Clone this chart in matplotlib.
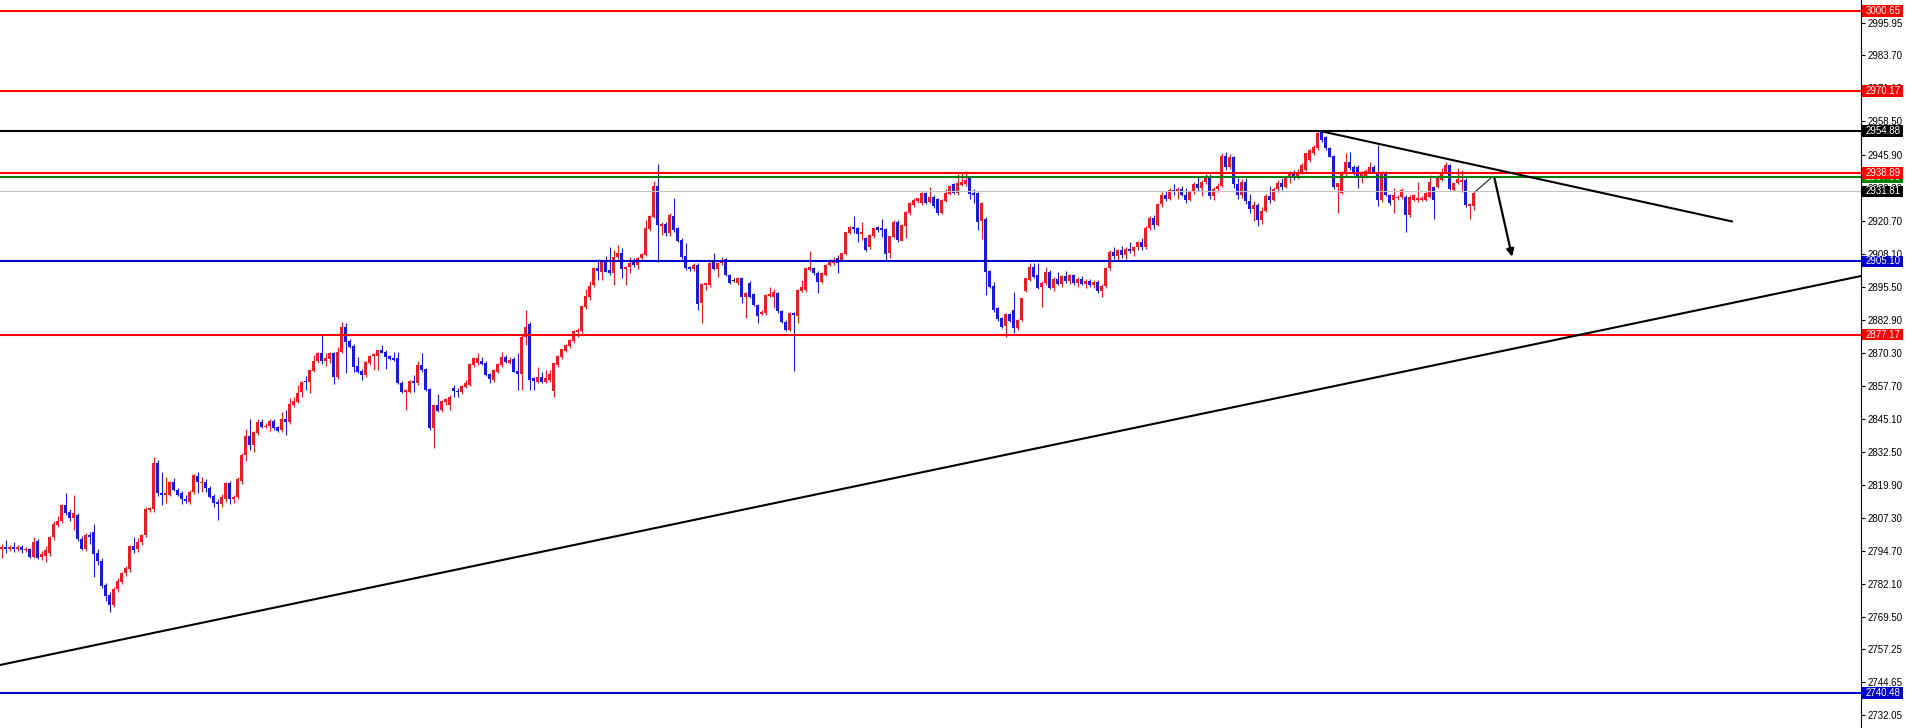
import matplotlib
matplotlib.use("Agg")
import matplotlib.pyplot as plt
import matplotlib.transforms as mtransforms
from matplotlib.patches import Rectangle

# ---------------- candle data (one value per bar, oldest first) ----------------
open_prices = [
    2795.6, 2796.2, 2795.6, 2796.1, 2795.5, 2796.0, 2795.0, 2795.4, 2792.2, 2798.4,
    2792.5, 2792.7, 2793.8, 2799.9, 2804.6, 2806.2, 2812.2, 2809.7, 2807.1, 2808.4,
    2799.1, 2795.3, 2800.8, 2802.0, 2793.8, 2791.0, 2781.7, 2777.9, 2774.0, 2780.0,
    2782.9, 2786.1, 2787.7, 2796.6, 2795.3, 2798.0, 2800.8, 2810.3, 2810.6, 2828.1,
    2816.7, 2816.0, 2816.0, 2820.9, 2817.9, 2816.9, 2814.4, 2813.5, 2817.0, 2823.4,
    2820.5, 2821.1, 2818.8, 2815.6, 2813.5, 2812.6, 2814.4, 2820.5, 2814.4, 2815.4,
    2821.5, 2831.3, 2838.5, 2835.1, 2839.5, 2844.0, 2842.1, 2842.3, 2844.2, 2841.8,
    2840.8, 2845.0, 2843.7, 2850.4, 2851.6, 2855.4, 2859.3, 2859.0, 2863.4, 2867.0,
    2870.3, 2867.3, 2867.9, 2870.1, 2860.9, 2870.7, 2880.2, 2874.8, 2872.9, 2865.2,
    2863.3, 2861.8, 2866.2, 2869.2, 2869.2, 2871.3, 2870.7, 2869.0, 2868.1, 2868.1,
    2858.9, 2855.4, 2855.4, 2859.6, 2858.9, 2865.6, 2864.0, 2856.5, 2841.4, 2850.3,
    2848.4, 2851.6, 2850.3, 2856.8, 2855.8, 2855.2, 2857.35, 2858.0, 2865.6, 2866.2,
    2867.3, 2866.5, 2862.0, 2859.9, 2863.1, 2865.6, 2868.8, 2866.5, 2867.8, 2863.3,
    2862.05, 2876.4, 2881.25, 2860.5, 2859.25, 2861.2, 2859.25, 2859.9, 2855.5, 2865.6,
    2868.8, 2871.1, 2872.9, 2874.9, 2878.3, 2878.7, 2887.9, 2891.7, 2896.1, 2902.75,
    2901.2, 2905.3, 2901.9, 2900.6, 2906.9, 2908.5, 2902.1, 2902.9, 2905.0, 2903.8,
    2906.3, 2907.6, 2917.5, 2922.2, 2933.9, 2918.6, 2919.4, 2915.8, 2922.45, 2917.75,
    2913.3, 2907.2, 2903.1, 2902.1, 2903.8, 2889.1, 2896.1, 2896.1, 2905.0, 2902.1,
    2904.4, 2905.9, 2899.95, 2898.0, 2897.0, 2898.7, 2891.7, 2896.8, 2892.7, 2888.5,
    2885.1, 2885.3, 2892.1, 2891.7, 2893.0, 2886.2, 2882.1, 2879.0, 2885.3, 2884.4,
    2894.0, 2894.2, 2901.9, 2902.5, 2900.8, 2897.4, 2900.0, 2903.8, 2904.4, 2906.55,
    2905.7, 2908.0, 2916.1, 2918.1, 2917.8, 2915.5, 2913.9, 2910.75, 2914.8, 2918.1,
    2917.75, 2917.5, 2908.2, 2914.6, 2920.3, 2913.1, 2918.75, 2923.7, 2926.6, 2928.3,
    2927.3, 2931.1, 2927.9, 2929.8, 2928.8, 2923.7, 2928.3, 2930.85, 2934.65, 2931.1,
    2934.3, 2934.65, 2936.8, 2931.1, 2931.1, 2920.5, 2921.2, 2901.5, 2895.75, 2887.2,
    2883.4, 2880.5, 2885.06, 2886.6, 2879.6, 2882.8, 2893.96, 2898.0, 2903.1, 2899.9,
    2895.2, 2896.76, 2901.2, 2895.0, 2898.5, 2896.5, 2899.5, 2897.8, 2899.8, 2896.8,
    2898.4, 2896.6, 2897.8, 2896.2, 2897.2, 2894.0, 2895.8, 2902.5, 2908.8, 2907.0,
    2909.3, 2907.5, 2909.8, 2909.0, 2910.5, 2912.5, 2910.5, 2918.0, 2921.5, 2919.0,
    2927.0, 2930.5, 2929.0, 2932.5, 2931.5, 2932.8, 2930.5, 2928.5, 2931.8, 2934.8,
    2933.0, 2935.5, 2937.8, 2930.0, 2932.8, 2934.0, 2945.5, 2941.0, 2944.8, 2934.5,
    2930.5, 2935.5, 2928.0, 2925.0, 2926.5, 2921.0, 2924.5, 2930.0, 2928.5, 2932.8,
    2935.0, 2933.5, 2936.8, 2938.5, 2937.0, 2939.4, 2940.0, 2943.8, 2946.35, 2948.3,
    2954.6, 2952.5, 2948.3, 2945.35, 2933.4, 2931.35, 2938.4, 2943.2, 2941.3, 2941.3,
    2937.7, 2937.7, 2939.4, 2941.3, 2939.4, 2928.55, 2939.4, 2930.5, 2928.55, 2929.5,
    2929.8, 2929.8, 2922.8, 2928.55, 2928.55, 2928.55, 2928.55, 2929.8, 2933.6, 2933.4,
    2936.2, 2939.4, 2941.9, 2932.4, 2934.9, 2935.55, 2936.2, 2926.3, 2926.3,
]

high_prices = [
    2797.2, 2799.0, 2796.8, 2798.0, 2797.0, 2796.8, 2796.2, 2795.8, 2800.0, 2799.2,
    2794.8, 2796.5, 2800.5, 2806.0, 2808.0, 2812.5, 2816.7, 2810.5, 2816.0, 2809.0,
    2800.5, 2801.5, 2801.8, 2805.0, 2795.5, 2792.0, 2782.5, 2779.0, 2781.0, 2784.5,
    2786.8, 2788.8, 2797.0, 2800.0, 2799.5, 2801.2, 2811.5, 2811.5, 2830.5, 2829.5,
    2824.9, 2823.0, 2821.5, 2822.5, 2818.5, 2817.5, 2816.0, 2817.8, 2824.2, 2824.9,
    2823.0, 2822.0, 2819.5, 2816.5, 2814.5, 2816.5, 2820.8, 2821.2, 2816.0, 2823.0,
    2832.0, 2841.2, 2845.0, 2840.5, 2845.0, 2845.0, 2843.5, 2845.0, 2845.0, 2842.5,
    2847.8, 2848.4, 2852.9, 2853.3, 2858.0, 2859.5, 2861.4, 2863.8, 2869.4, 2870.5,
    2877.1, 2870.3, 2870.7, 2870.5, 2872.6, 2882.1, 2881.5, 2875.5, 2873.5, 2868.8,
    2864.0, 2867.3, 2869.5, 2870.3, 2871.5, 2873.2, 2871.2, 2869.5, 2870.7, 2870.7,
    2859.5, 2856.5, 2860.0, 2861.8, 2867.3, 2870.3, 2864.5, 2857.0, 2850.3, 2854.5,
    2852.2, 2853.0, 2854.0, 2857.8, 2857.0, 2857.8, 2859.7, 2866.5, 2868.8, 2870.1,
    2868.8, 2867.0, 2862.5, 2864.0, 2866.5, 2870.4, 2869.5, 2868.5, 2868.5, 2870.1,
    2877.0, 2886.6, 2882.0, 2861.0, 2865.0, 2863.1, 2863.7, 2863.7, 2866.5, 2869.5,
    2871.8, 2873.5, 2875.5, 2879.0, 2879.6, 2888.3, 2894.5, 2897.5, 2903.0, 2906.05,
    2905.8, 2907.0, 2910.75, 2909.5, 2911.4, 2910.1, 2903.5, 2906.7, 2906.3, 2906.8,
    2908.2, 2920.9, 2923.0, 2935.8, 2942.3, 2920.0, 2920.0, 2923.5, 2929.2, 2918.2,
    2914.0, 2912.0, 2903.5, 2904.5, 2904.5, 2896.8, 2897.0, 2905.0, 2908.2, 2904.8,
    2906.9, 2906.5, 2900.5, 2898.8, 2899.0, 2899.0, 2893.5, 2897.5, 2893.2, 2889.0,
    2886.5, 2892.6, 2895.5, 2894.5, 2893.5, 2886.6, 2882.6, 2885.8, 2885.8, 2894.5,
    2898.0, 2902.8, 2909.1, 2903.0, 2901.5, 2901.2, 2904.3, 2906.0, 2906.8, 2907.5,
    2908.5, 2916.5, 2918.5, 2922.45, 2918.2, 2920.3, 2914.5, 2915.5, 2918.0, 2918.5,
    2921.2, 2918.0, 2915.0, 2920.8, 2921.0, 2919.5, 2924.5, 2927.6, 2929.2, 2929.5,
    2931.5, 2931.6, 2933.6, 2930.3, 2929.3, 2929.0, 2932.6, 2934.2, 2935.2, 2938.5,
    2939.0, 2939.6, 2937.45, 2932.6, 2931.6, 2927.8, 2922.0, 2902.0, 2897.4, 2887.8,
    2884.0, 2885.5, 2885.6, 2893.6, 2883.2, 2891.3, 2898.8, 2904.4, 2904.4, 2904.4,
    2897.5, 2903.0, 2901.8, 2899.0, 2901.0, 2900.0, 2901.5, 2900.5, 2900.5, 2899.0,
    2899.5, 2898.5, 2898.5, 2898.0, 2898.0, 2896.5, 2903.0, 2909.5, 2910.5, 2910.0,
    2911.0, 2910.5, 2912.5, 2911.0, 2913.0, 2914.0, 2918.5, 2922.5, 2923.0, 2927.5,
    2931.5, 2932.0, 2933.0, 2934.5, 2933.5, 2934.0, 2933.0, 2932.5, 2935.5, 2937.5,
    2936.0, 2938.5, 2938.5, 2933.5, 2935.0, 2946.5, 2947.0, 2946.0, 2945.5, 2937.0,
    2936.5, 2937.0, 2931.0, 2928.0, 2927.5, 2926.0, 2931.0, 2934.0, 2933.5, 2936.0,
    2937.0, 2937.5, 2939.5, 2940.0, 2940.5, 2942.5, 2946.5, 2948.0, 2949.5, 2954.9,
    2954.9, 2953.0, 2948.8, 2945.8, 2935.2, 2939.8, 2946.35, 2947.0, 2941.8, 2941.8,
    2939.5, 2940.2, 2943.2, 2941.8, 2949.5, 2939.8, 2939.8, 2931.0, 2933.0, 2930.5,
    2933.0, 2930.5, 2930.5, 2931.0, 2935.5, 2930.0, 2931.5, 2938.1, 2934.0, 2938.1,
    2940.6, 2943.2, 2942.3, 2935.2, 2940.6, 2940.0, 2936.8, 2927.5, 2932.0,
]

low_prices = [
    2792.1, 2793.8, 2794.8, 2794.4, 2794.8, 2794.0, 2794.2, 2791.8, 2791.8, 2791.5,
    2791.2, 2790.6, 2792.6, 2799.0, 2803.8, 2805.2, 2808.5, 2806.0, 2802.7, 2798.5,
    2795.0, 2794.8, 2797.5, 2784.9, 2789.5, 2780.5, 2775.5, 2771.5, 2773.2, 2779.2,
    2782.0, 2785.0, 2786.8, 2793.8, 2794.2, 2797.0, 2800.0, 2809.5, 2809.5, 2815.5,
    2812.2, 2812.8, 2815.5, 2817.5, 2815.5, 2812.5, 2812.8, 2812.5, 2816.5, 2816.8,
    2817.0, 2817.2, 2814.8, 2811.5, 2806.5, 2811.5, 2813.5, 2812.5, 2813.0, 2814.6,
    2820.3, 2829.0, 2833.2, 2832.5, 2838.8, 2841.5, 2841.5, 2840.5, 2840.8, 2840.2,
    2840.0, 2838.9, 2843.2, 2849.5, 2851.0, 2853.3, 2856.1, 2854.8, 2863.0, 2866.5,
    2866.0, 2865.2, 2866.5, 2858.2, 2860.1, 2870.0, 2862.7, 2872.0, 2863.1, 2862.4,
    2859.9, 2860.9, 2865.5, 2863.7, 2863.7, 2870.0, 2864.0, 2867.5, 2867.2, 2858.5,
    2855.0, 2848.4, 2854.8, 2855.4, 2858.0, 2863.1, 2855.8, 2841.0, 2833.8, 2847.5,
    2847.5, 2850.5, 2848.5, 2853.5, 2853.5, 2854.5, 2856.8, 2857.5, 2865.0, 2865.6,
    2865.5, 2861.5, 2858.6, 2859.0, 2862.5, 2865.0, 2866.5, 2865.8, 2862.8, 2856.1,
    2856.1, 2873.2, 2856.1, 2856.1, 2858.8, 2858.8, 2858.8, 2859.0, 2853.5, 2865.0,
    2868.0, 2870.5, 2872.0, 2874.0, 2876.4, 2878.0, 2887.0, 2890.5, 2895.5, 2898.0,
    2898.0, 2901.0, 2900.0, 2896.1, 2906.0, 2898.7, 2896.1, 2900.6, 2903.0, 2902.1,
    2905.5, 2907.0, 2916.8, 2921.5, 2905.0, 2915.2, 2915.0, 2915.0, 2916.5, 2912.5,
    2906.0, 2902.0, 2901.5, 2901.5, 2886.6, 2881.5, 2894.2, 2895.5, 2902.0, 2899.3,
    2903.8, 2899.5, 2896.5, 2897.3, 2896.0, 2889.1, 2883.4, 2891.0, 2888.0, 2881.5,
    2884.5, 2884.8, 2891.5, 2887.2, 2885.5, 2881.5, 2878.5, 2878.5, 2863.5, 2881.5,
    2893.5, 2893.5, 2901.5, 2900.0, 2893.2, 2896.8, 2899.5, 2903.2, 2903.8, 2900.8,
    2905.2, 2907.5, 2915.5, 2916.1, 2912.5, 2913.3, 2909.0, 2910.0, 2914.0, 2916.5,
    2914.6, 2905.7, 2906.3, 2914.0, 2912.5, 2912.9, 2913.9, 2923.0, 2926.0, 2927.5,
    2926.8, 2927.0, 2927.3, 2925.4, 2923.0, 2923.2, 2927.8, 2930.3, 2930.8, 2930.5,
    2933.8, 2934.0, 2928.8, 2927.3, 2917.1, 2913.7, 2892.3, 2894.8, 2886.0, 2882.5,
    2879.8, 2876.4, 2882.0, 2877.9, 2879.0, 2882.3, 2893.5, 2897.5, 2898.8, 2894.5,
    2887.8, 2896.2, 2894.5, 2894.0, 2896.0, 2895.5, 2897.0, 2896.5, 2896.0, 2895.5,
    2896.0, 2895.0, 2895.5, 2895.0, 2893.0, 2891.5, 2895.0, 2902.0, 2906.0, 2905.5,
    2906.5, 2906.0, 2908.5, 2907.0, 2909.5, 2909.5, 2910.0, 2917.0, 2917.5, 2918.5,
    2926.0, 2928.0, 2928.5, 2930.5, 2929.0, 2930.0, 2927.5, 2928.0, 2931.0, 2932.0,
    2930.0, 2934.5, 2929.0, 2928.5, 2931.5, 2933.5, 2940.0, 2940.5, 2933.0, 2929.0,
    2929.5, 2927.0, 2923.5, 2920.5, 2918.5, 2919.5, 2924.0, 2927.5, 2928.0, 2931.5,
    2932.5, 2933.0, 2935.0, 2936.0, 2936.5, 2938.5, 2939.5, 2943.0, 2945.8, 2947.8,
    2950.8, 2947.8, 2944.8, 2932.8, 2923.5, 2930.8, 2937.8, 2940.0, 2938.0, 2933.0,
    2935.2, 2937.0, 2938.8, 2938.8, 2926.3, 2927.9, 2929.9, 2926.8, 2923.5, 2928.5,
    2929.0, 2916.5, 2922.0, 2928.0, 2927.9, 2928.0, 2928.0, 2929.2, 2921.2, 2933.0,
    2935.8, 2939.0, 2932.2, 2931.8, 2934.5, 2931.7, 2926.0, 2921.2, 2924.7,
]

close_prices = [
    2796.2, 2795.6, 2796.1, 2795.5, 2796.0, 2795.0, 2795.4, 2792.2, 2798.2, 2792.0,
    2793.4, 2795.0, 2799.9, 2805.0, 2806.2, 2812.2, 2809.0, 2807.1, 2809.0, 2799.1,
    2795.3, 2800.8, 2799.9, 2793.5, 2791.0, 2781.4, 2777.6, 2774.0, 2780.0, 2783.2,
    2786.1, 2788.0, 2796.6, 2795.0, 2798.2, 2800.8, 2810.6, 2810.9, 2828.1, 2816.7,
    2816.0, 2816.7, 2821.1, 2817.9, 2816.0, 2814.4, 2813.9, 2817.0, 2823.7, 2821.0,
    2821.1, 2818.6, 2815.4, 2813.1, 2812.5, 2815.1, 2820.5, 2814.4, 2815.4, 2822.0,
    2831.3, 2838.5, 2835.1, 2840.2, 2844.0, 2842.1, 2842.5, 2844.2, 2841.4, 2840.6,
    2845.0, 2844.0, 2850.7, 2852.0, 2854.8, 2859.3, 2859.0, 2863.7, 2867.3, 2870.3,
    2867.3, 2868.1, 2870.1, 2861.2, 2870.7, 2880.2, 2874.5, 2872.6, 2865.0, 2863.1,
    2861.8, 2866.9, 2869.0, 2869.7, 2871.3, 2870.3, 2868.8, 2867.9, 2867.5, 2858.9,
    2855.4, 2856.1, 2859.6, 2858.9, 2865.6, 2863.7, 2856.1, 2841.4, 2850.3, 2848.2,
    2851.9, 2852.5, 2853.5, 2855.8, 2855.2, 2857.6, 2858.6, 2865.9, 2868.2, 2868.2,
    2866.0, 2861.8, 2860.1, 2863.7, 2866.0, 2868.8, 2866.9, 2867.5, 2863.1, 2862.05,
    2876.4, 2880.2, 2859.9, 2859.5, 2861.2, 2859.25, 2860.5, 2862.05, 2866.2, 2869.2,
    2871.6, 2873.2, 2875.15, 2878.7, 2878.96, 2888.1, 2891.9, 2895.9, 2902.75, 2901.6,
    2905.3, 2901.2, 2900.6, 2906.9, 2908.2, 2902.1, 2903.1, 2904.65, 2903.8, 2906.55,
    2907.95, 2917.75, 2922.45, 2933.9, 2919.0, 2919.4, 2915.8, 2922.8, 2917.1, 2913.0,
    2906.7, 2902.5, 2902.1, 2903.8, 2888.9, 2896.4, 2896.8, 2904.4, 2902.1, 2904.4,
    2905.7, 2899.95, 2897.0, 2898.0, 2898.7, 2891.7, 2893.2, 2891.7, 2888.5, 2884.4,
    2885.9, 2892.3, 2892.7, 2893.6, 2886.2, 2882.1, 2879.0, 2885.3, 2884.7, 2894.2,
    2895.5, 2902.5, 2902.9, 2900.6, 2897.4, 2900.8, 2903.8, 2905.7, 2904.9, 2904.4,
    2908.2, 2916.5, 2918.1, 2917.4, 2915.5, 2916.5, 2909.5, 2915.2, 2917.75, 2917.1,
    2917.1, 2908.0, 2914.8, 2920.3, 2913.3, 2919.0, 2924.1, 2927.3, 2928.55, 2929.2,
    2931.35, 2927.3, 2929.8, 2926.3, 2923.5, 2928.55, 2931.1, 2933.9, 2931.35, 2935.2,
    2935.55, 2936.2, 2930.85, 2930.45, 2920.3, 2927.5, 2901.2, 2895.2, 2886.6, 2883.0,
    2880.2, 2885.06, 2882.5, 2879.6, 2882.8, 2891.0, 2898.7, 2903.1, 2899.3, 2894.85,
    2897.0, 2901.2, 2894.85, 2898.5, 2896.5, 2899.5, 2897.8, 2899.8, 2896.8, 2898.4,
    2896.6, 2897.8, 2896.2, 2897.2, 2894.0, 2895.8, 2902.5, 2908.8, 2907.0, 2909.3,
    2907.5, 2909.8, 2909.0, 2910.5, 2912.5, 2910.5, 2918.0, 2921.5, 2919.0, 2927.0,
    2930.5, 2929.0, 2932.5, 2931.5, 2932.8, 2930.5, 2928.5, 2931.8, 2934.8, 2933.0,
    2935.5, 2937.8, 2930.0, 2932.8, 2934.0, 2945.5, 2941.0, 2944.8, 2934.5, 2930.5,
    2935.5, 2928.0, 2925.0, 2926.5, 2921.0, 2924.5, 2930.0, 2928.5, 2932.8, 2935.0,
    2933.5, 2936.8, 2938.5, 2937.0, 2939.4, 2941.9, 2946.35, 2947.6, 2948.9, 2954.0,
    2951.4, 2948.3, 2945.1, 2933.4, 2935.2, 2939.4, 2943.2, 2940.6, 2938.7, 2937.7,
    2938.7, 2939.7, 2941.3, 2939.4, 2928.55, 2939.4, 2930.5, 2927.3, 2930.5, 2929.8,
    2932.4, 2922.8, 2929.8, 2930.5, 2929.2, 2929.2, 2931.1, 2935.55, 2928.55, 2936.8,
    2939.4, 2941.9, 2932.6, 2934.9, 2936.4, 2936.2, 2926.65, 2927.0, 2931.35,
]

# ---------------- price axis ----------------
tick_values = [2995.95, 2983.70, 2971.10, 2958.50, 2945.90, 2933.30, 2920.70,
               2908.10, 2895.50, 2882.90, 2870.30, 2857.70, 2845.10, 2832.50,
               2819.90, 2807.30, 2794.70, 2782.10, 2769.50, 2757.25, 2744.65,
               2732.05]
price_min, price_max = 2727.13, 3004.85

# ---------------- horizontal levels (drawn in this order) ----------------
level_prices = [3000.65, 2970.17, 2954.88, 2937.36, 2938.89, 2931.81, 2905.10, 2877.17, 2740.48]
level_line_colors = ['#ff0000', '#ff0000', '#000000', '#008000', '#ff0000',
                     '#c0c0c0', '#0000cd', '#ff0000', '#0000cd']
level_box_colors = ['#ff0000', '#ff0000', '#000000', '#008000', '#ff0000',
                    '#000000', '#0000cd', '#ff0000', '#0000cd']
level_line_widths = [1.5, 1.5, 1.5, 1.5, 1.5, 0.8, 1.5, 1.5, 1.5]

# ---------------- drawn trend lines (bar index, price) ----------------
support_x = [-0.5, 465.0]
support_y = [2751.14, 2899.61]
resistance_x = [329.6, 432.8]
resistance_y = [2954.88, 2920.3]
sketch_x = [368.6, 372.2]
sketch_y = [2932.0, 2936.8]
arrow_from = (373.2, 2936.8)
arrow_to = (377.6, 2906.9)

RED_CANDLE = '#ec1b24'
BLUE_CANDLE = '#1a1adc'

W, H = 1907, 728
fig = plt.figure(figsize=(W / 100, H / 100), dpi=100)
plot_right = 1861
ax = fig.add_axes([0, 0, plot_right / W, 1])
ax.set_facecolor('white')

n = min(len(open_prices), len(high_prices), len(low_prices), len(close_prices))
xs = list(range(n))
colors = []
bottoms = []
heights = []
for i in range(n):
    o, c = open_prices[i], close_prices[i]
    if c > o:
        colors.append(RED_CANDLE)
    elif c < o:
        colors.append(BLUE_CANDLE)
    else:
        colors.append('#000000')
    lo = min(o, c)
    hgt = abs(c - o)
    if hgt < 0.4:
        lo = (o + c) / 2 - 0.2
        hgt = 0.4
    bottoms.append(lo)
    heights.append(hgt)

ax.vlines(xs, low_prices[:n], high_prices[:n], colors=colors, linewidth=0.8, zorder=2)
ax.bar(xs, heights, bottom=bottoms, width=0.78, color=colors, linewidth=0, zorder=2)

# horizontal levels
for p, lc, lw in zip(level_prices, level_line_colors, level_line_widths):
    ax.axhline(p, color=lc, linewidth=lw, zorder=3)

# trend lines
ax.plot(support_x, support_y, color='black', linewidth=1.5, zorder=4, solid_capstyle='butt')
ax.plot(resistance_x, resistance_y, color='black', linewidth=1.5, zorder=4, solid_capstyle='butt')
ax.plot(sketch_x, sketch_y, color='black', linewidth=0.7, zorder=4)
ax.annotate('', xy=arrow_to, xytext=arrow_from,
            arrowprops=dict(arrowstyle='-|>', color='black', lw=1.6,
                            mutation_scale=11, shrinkA=0, shrinkB=0),
            zorder=5)

ax.set_xlim(-0.425, (plot_right - 1.7) / 4)
ax.set_ylim(price_min, price_max)
ax.set_xticks([])

ax.yaxis.tick_right()
ax.set_yticks(tick_values)
ax.set_yticklabels([f"{v:.2f}" for v in tick_values])
ax.tick_params(axis='y', direction='out', length=3, width=0.8, pad=2,
               labelsize=7, colors='black')
for lab in ax.get_yticklabels():
    lab.set_fontfamily('Liberation Sans')

for side in ['left', 'top', 'bottom']:
    ax.spines[side].set_visible(False)
ax.spines['right'].set_color('black')
ax.spines['right'].set_linewidth(0.8)

# price tags on the right axis (later tags cover earlier ones, as in the terminal)
blend = mtransforms.blended_transform_factory(fig.transFigure, ax.transData)
box_h = 11.5 / 2.6213
for k, (p, bc) in enumerate(zip(level_prices, level_box_colors)):
    z = 10 + 2 * k
    rect = Rectangle((1862 / W, p - box_h / 2), 41 / W, box_h, transform=blend,
                     facecolor=bc, edgecolor='none', clip_on=False, zorder=z)
    ax.add_patch(rect)
    t = ax.text(1883 / W, p, f"{p:.2f}", transform=blend, ha='center', va='center',
                color='white', fontsize=7, family='Liberation Sans', zorder=z + 1,
                clip_on=False)
    if k + 1 < len(level_prices) and abs(level_prices[k + 1] - p) < box_h:
        # only the strip not hidden by the next tag stays visible
        upper = level_prices[k + 1] - box_h / 2
        clip_rect = Rectangle((1862 / W, p - box_h / 2), 41 / W, upper - (p - box_h / 2),
                              transform=blend, facecolor='none', edgecolor='none')
        t.set_clip_path(clip_rect)
        t.set_clip_on(True)

fig.savefig('out.png', dpi=100, facecolor='white')
